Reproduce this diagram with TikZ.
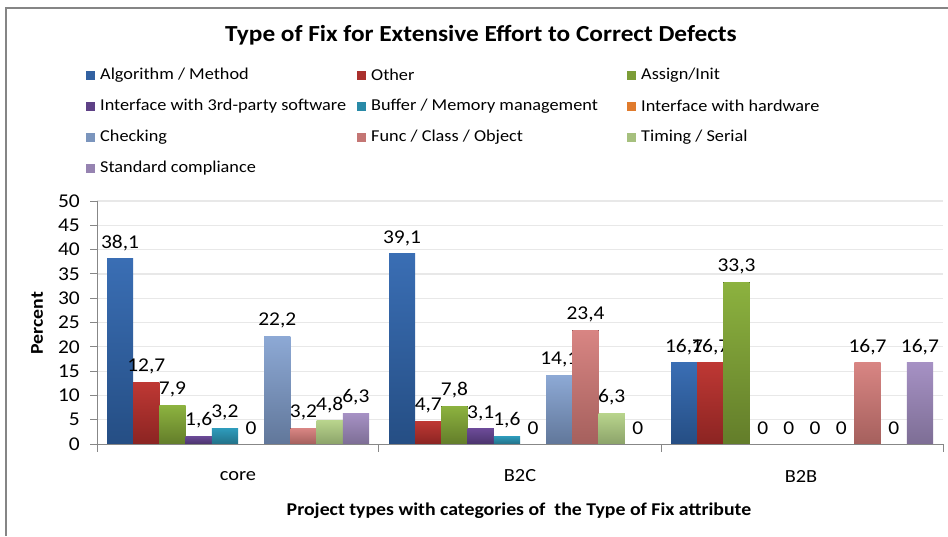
\documentclass[tikz,border=0pt]{standalone}
\usepackage{fontspec}
\setmainfont[FakeStretch=1.1]{Carlito}
\begin{document}
\begin{tikzpicture}[x=1pt,y=-1pt,
  frameline/.style={draw=black!48,line width=1.6pt},
  axisline/.style={draw=black!47,line width=1pt},
  gridline/.style={draw=black!9,line width=1.2pt},
  vallabel/.style={font=\fontsize{19.5}{19.5}\selectfont,inner sep=0pt},
  ticklabel/.style={font=\fontsize{19.5}{19.5}\selectfont,inner sep=0pt,anchor=east},
  catlabel/.style={font=\fontsize{18.5}{18.5}\selectfont,inner sep=0pt},
  legtext/.style={font=\fontsize{16.6}{16.6}\selectfont,inner sep=0pt,anchor=west},
  legbox/.style={minimum size=9pt,inner sep=0pt,anchor=center}]
\useasboundingbox (0,0) rectangle (948,536);
\fill[white] (0,0) rectangle (948,536);

% series colours: top and bottom of each bar gradient, and the legend swatch
\colorlet{s1t}{rgb,255:red,58;green,110;blue,180}
\colorlet{s1b}{rgb,255:red,37;green,78;blue,132}
\colorlet{s2t}{rgb,255:red,190;green,56;blue,52}
\colorlet{s2b}{rgb,255:red,139;green,36;blue,34}
\colorlet{s3t}{rgb,255:red,140;green,178;blue,63}
\colorlet{s3b}{rgb,255:red,99;green,125;blue,42}
\colorlet{s4t}{rgb,255:red,107;green,74;blue,151}
\colorlet{s4b}{rgb,255:red,75;green,52;blue,109}
\colorlet{s5t}{rgb,255:red,46;green,155;blue,187}
\colorlet{s5b}{rgb,255:red,34;green,113;blue,136}
\colorlet{s6t}{rgb,255:red,240;green,135;blue,52}
\colorlet{s6b}{rgb,255:red,200;green,105;blue,35}
\colorlet{s7t}{rgb,255:red,141;green,169;blue,213}
\colorlet{s7b}{rgb,255:red,97;green,119;blue,154}
\colorlet{s8t}{rgb,255:red,216;green,133;blue,131}
\colorlet{s8b}{rgb,255:red,165;green,96;blue,93}
\colorlet{s9t}{rgb,255:red,184;green,212;blue,140}
\colorlet{s9b}{rgb,255:red,140;green,163;blue,106}
\colorlet{s10t}{rgb,255:red,166;green,145;blue,196}
\colorlet{s10b}{rgb,255:red,125;green,110;blue,149}

% chart frame (top and left edges)
\draw[frameline] (948,8) -- (6,8) -- (6,536);

% title
\node[font=\bfseries\fontsize{23}{23}\selectfont,inner sep=0pt] (title) at (481,35)
  {Type of Fix for Extensive Effort to Correct Defects};

% legend
\foreach \n/\x/\y/\t in {1/85/75/{Algorithm / Method},2/356/75/{Other},3/626/75/{Assign/Init},
  4/85/106/{Interface with 3rd-party software},5/356/106/{Buffer / Memory management},6/626/106/{Interface with hardware},
  7/85/137/{Checking},8/356/137/{Func / Class / Object},9/626/137/{Timing / Serial},
  10/85/168/{Standard compliance}}{
  \node[legbox,fill=s\n t!60!s\n b] (lb\n) at (\x+5,\y) {};
  \node[legtext] (lt\n) at (\x+15,\y) {\t};
}

% gridlines
\foreach \k in {1,...,10}
  \draw[gridline] (97,444-\k*24.3) -- (943,444-\k*24.3);

% value axis with tick labels
\coordinate (ytop) at (97,201);
\coordinate (ybot) at (97,452);
\draw[axisline] (ytop) -- (ybot);
\foreach \k in {0,...,10}{
  \draw[axisline] (90,444-\k*24.3) -- (97,444-\k*24.3);
  \pgfmathtruncatemacro{\lab}{5*\k}
  \node[ticklabel] (yt\k) at (80,444-\k*24.3) {\lab};
}
\node[rotate=90,font=\bfseries\fontsize{18}{18}\selectfont,inner sep=0pt] (ylab) at (37,323) {Percent};

% bars: category / series / value / printed value
\foreach \c/\s/\v/\l in {
  0/1/38.1/{38,1},0/2/12.7/{12,7},0/3/7.9/{7,9},0/4/1.6/{1,6},0/5/3.2/{3,2},
  0/6/0/{0},0/7/22.2/{22,2},0/8/3.2/{3,2},0/9/4.8/{4,8},0/10/6.3/{6,3},
  1/1/39.1/{39,1},1/2/4.7/{4,7},1/3/7.8/{7,8},1/4/3.1/{3,1},1/5/1.6/{1,6},
  1/6/0/{0},1/7/14.1/{14,1},1/8/23.4/{23,4},1/9/6.3/{6,3},1/10/0/{0},
  2/1/16.7/{16,7},2/2/16.7/{16,7},2/3/33.3/{33,3},2/4/0/{0},2/5/0/{0},
  2/6/0/{0},2/7/0/{0},2/8/16.7/{16,7},2/9/0/{0},2/10/16.7/{16,7}}{
  \pgfmathsetmacro{\xa}{107+\c*282+(\s-1)*26.2}
  \pgfmathsetmacro{\yt}{444-\v*4.86}
  \ifdim\v pt>0pt
    \fill[top color=s\s t,bottom color=s\s b] (\xa,444) rectangle (\xa+26.2,\yt);
  \fi
  \node[vallabel] (v\c-\s) at (\xa+13.1,\yt-16) {\l};
}

% category axis
\coordinate (xl) at (97,444);
\coordinate (xr) at (943,444);
\draw[axisline] (xl) -- (xr);
\foreach \x in {97,378,661,943}
  \draw[axisline] (\x,444) -- (\x,452);
\node[catlabel] (core) at (238,476) {core};
\node[catlabel] (b2c) at (520,476) {B2C};
\node[catlabel] (b2b) at (801,476) {B2B};
\node[font=\bfseries\fontsize{18}{18}\selectfont,inner sep=0pt] (xlab) at (519,511)
  {Project types with categories of \ the Type of Fix attribute};
\end{tikzpicture}
\end{document}
